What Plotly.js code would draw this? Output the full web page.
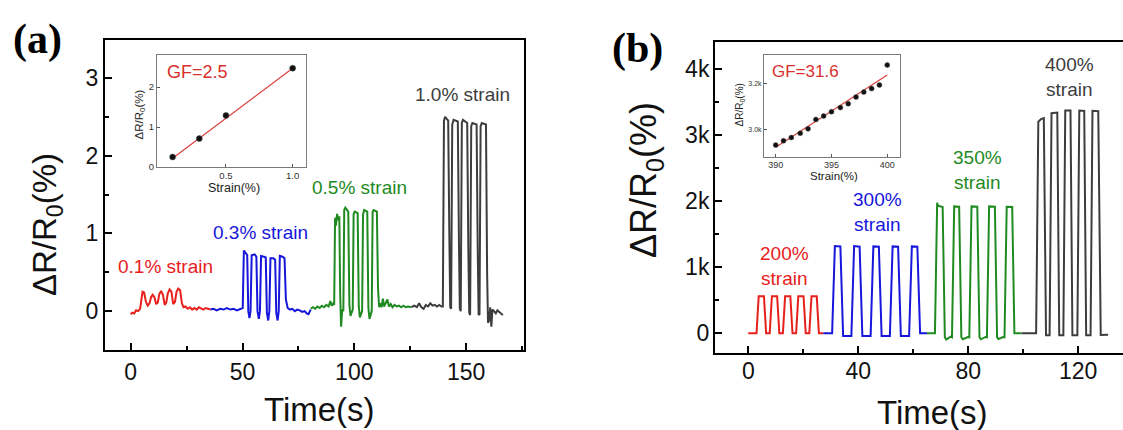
<!DOCTYPE html>
<html>
<head>
<meta charset="utf-8">
<script src="https://cdn.plot.ly/plotly-3.0.1.min.js"></script>
<style>html,body{margin:0;padding:0;background:#fff;}#chart{width:1123px;height:430px;}</style>
</head>
<body>
<div id="chart"></div>
<script>
// ---------- Panel (a) data: time (s) vs dR/R0 (%) ----------
const aRedT = [0, 0.7, 1.5, 2.4, 3.3, 4.2, 4.8, 5.3, 6.0, 6.8, 7.6, 8.4, 9.1, 9.8, 10.6, 11.4, 12.1, 12.8, 13.6, 14.4, 15.2, 15.9, 16.6, 17.4, 18.2, 19.0, 19.8, 20.5, 21.3, 22.1, 22.9, 23.6, 24.5, 25.5, 26.5, 27.5, 28.5, 29.5, 30.5, 31.5, 32.5, 33.5, 34.5, 35.7];
const aRedV = [-0.04, -0.02, -0.03, 0.01, 0.00, 0.03, 0.15, 0.25, 0.24, 0.12, 0.07, 0.10, 0.18, 0.21, 0.18, 0.09, 0.11, 0.22, 0.26, 0.21, 0.08, 0.11, 0.23, 0.28, 0.25, 0.09, 0.12, 0.25, 0.29, 0.27, 0.10, 0.05, 0.06, 0.03, 0.05, 0.02, 0.04, 0.02, 0.05, 0.03, 0.02, 0.04, 0.03, 0.02];

const aBlueT = [35.7, 37, 38.5, 40, 41.5, 43, 44.5, 46, 47.5, 49, 50.1, 50.6, 51.2, 52.1, 52.6, 53.1, 53.6, 54.1, 55.4, 56.2, 56.7, 57.3, 57.8, 58.3, 59.6, 60.4, 60.9, 61.5, 62.0, 62.5, 63.8, 64.6, 65.1, 65.7, 66.2, 66.7, 67.9, 68.8, 69.4, 70.2, 71.2, 72.3, 73.4, 74.5, 75.6, 76.7, 77.8, 78.7, 79.5, 80.5];
const aBlueV = [0.02, 0.03, 0.01, 0.03, 0.02, 0.04, 0.02, 0.03, 0.01, 0.03, 0.04, 0.78, 0.75, 0.72, 0.0, -0.09, 0.0, 0.72, 0.73, 0.70, 0.0, -0.10, 0.0, 0.71, 0.70, 0.69, -0.02, -0.12, 0.0, 0.68, 0.68, 0.66, -0.02, -0.12, 0.0, 0.71, 0.70, 0.68, 0.15, 0.04, 0.02, 0.03, 0.0, 0.02, 0.01, -0.01, 0.0, -0.03, -0.04, 0.02];

const aGreenT = [80.5, 81.5, 82.5, 83.5, 84.5, 85.5, 86.5, 87.5, 88.5, 89.3, 89.9, 90.6, 91.0, 91.4, 91.8, 92.3, 92.8, 93.3, 93.7, 94.1, 94.6, 95.1, 95.5, 96.0, 97.3, 97.8, 98.3, 98.8, 99.3, 99.7, 100.2, 101.5, 102.0, 102.5, 103.0, 103.5, 103.9, 104.4, 105.8, 106.3, 106.8, 107.3, 107.8, 108.2, 108.7, 110.1, 110.6, 111.1, 111.6, 112.2, 112.8, 113.3, 114.0, 114.8, 115.5, 116.3, 117.1, 118.0, 119.0, 120.0, 121.0, 122.0, 123.0, 124.0, 125.6];
const aGreenV = [0.03, 0.05, 0.03, 0.06, 0.04, 0.07, 0.05, 0.08, 0.06, 0.13, 0.07, 0.10, 0.08, 1.20, 1.10, 1.25, 1.17, 1.22, 0.20, -0.20, 0.02, 0.00, 1.30, 1.33, 1.28, 0.08, -0.06, -0.02, 0.02, 1.25, 1.28, 1.26, 0.06, -0.08, -0.03, 0.00, 1.24, 1.30, 1.28, 0.04, -0.10, -0.03, 0.00, 1.28, 1.30, 1.28, 0.30, 0.05, 0.10, 0.05, 0.16, 0.06, 0.10, 0.15, 0.06, 0.09, 0.05, 0.08, 0.06, 0.07, 0.05, 0.07, 0.05, 0.06, 0.05];

const aGrayT = [125.6, 126.8, 128.0, 129.0, 130.0, 131.0, 132.0, 133.0, 134.0, 135.0, 136.0, 137.0, 138.0, 139.0, 139.6, 140.1, 140.6, 142.0, 142.5, 142.9, 143.3, 143.8, 144.4, 146.3, 146.8, 147.2, 147.6, 148.1, 148.6, 150.5, 151.0, 151.4, 151.8, 152.3, 152.8, 154.7, 155.2, 155.6, 156.0, 156.5, 157.0, 158.9, 159.4, 159.8, 160.3, 160.8, 161.3, 161.8, 162.5, 163.3, 164.0, 165.0, 166.0, 166.5];
const aGrayV = [0.05, 0.07, 0.05, 0.10, 0.05, 0.03, 0.08, 0.06, 0.10, 0.07, 0.08, 0.06, 0.08, 0.06, 0.06, 2.45, 2.50, 2.45, 1.00, 0.05, 0.03, 2.40, 2.46, 2.44, 0.90, 0.03, 0.00, 2.42, 2.46, 2.42, 0.80, -0.02, -0.05, 2.38, 2.42, 2.40, 0.80, -0.05, -0.04, 2.38, 2.42, 2.40, 0.50, -0.15, -0.12, 0.05, -0.20, 0.02, 0.00, -0.03, 0.01, -0.02, -0.04, -0.05];

// ---------- Panel (b) data ----------
const bRedT = [0, 3.0, 3.8, 5.7, 6.5, 7.8, 8.6, 10.5, 11.3, 12.6, 13.4, 15.3, 16.1, 17.4, 18.2, 20.1, 20.9, 22.2, 23.0, 24.9, 25.7, 27.3];
const bRedV = [0, 0, 560, 560, 0, 0, 560, 560, 0, 0, 560, 560, 0, 0, 560, 560, 0, 0, 560, 560, 0, 0];

const bBlueT = [27.3, 30.5, 31.5, 33.5, 34.5, 37.5, 38.5, 40.5, 41.5, 44.5, 45.5, 47.5, 48.5, 51.5, 52.5, 54.5, 55.5, 58.5, 59.5, 61.5, 62.5, 65.0];
const bBlueV = [0, 0, 1320, 1315, -40, -40, 1320, 1310, -40, -40, 1315, 1310, -40, -40, 1315, 1310, -40, -40, 1315, 1310, 0, 0];

const bGreenT = [65.0, 67.9, 68.7, 69.0, 70.7, 71.5, 72.0, 73.6, 74.1, 74.9, 76.7, 77.5, 78.0, 79.9, 80.4, 81.2, 83.3, 84.1, 84.6, 86.3, 86.8, 87.6, 89.7, 90.5, 91.0, 92.7, 93.2, 94.0, 96.0, 96.8, 99.4];
const bGreenV = [0, 0, 1975, 1930, 1910, -60, -95, -50, -60, 1920, 1915, -60, -90, -55, -60, 1920, 1915, -60, -90, -55, -60, 1920, 1915, -60, -85, -55, -60, 1915, 1910, 0, 0];

const bGrayT = [99.4, 104.7, 105.5, 106.5, 107.5, 108.3, 109.6, 110.3, 112.4, 113.1, 114.6, 115.3, 117.2, 117.9, 119.7, 120.4, 122.2, 122.9, 124.5, 125.2, 127.3, 128.2, 130.9];
const bGrayV = [0, 0, 3200, 3240, 3255, -30, -30, 3330, 3340, -30, -30, 3370, 3370, -30, -30, 3370, 3365, -30, -30, 3365, 3360, -25, -20];

// ---------- Insets ----------
const insetAStrain = [0.1, 0.3, 0.5, 1.0];
const insetAResp = [0.25, 0.71, 1.29, 2.47];
const insetAFitX = [0.1, 1.0];
const insetAFitY = [0.22, 2.47];

const insetBStrain = [390, 390.7, 391.4, 392.2, 392.9, 393.6, 394.3, 395.0, 395.8, 396.5, 397.2, 397.9, 398.6, 399.3, 400.0];
const insetBResp = [2930, 2949, 2963, 2982, 3001, 3042, 3057, 3076, 3094, 3111, 3140, 3162, 3177, 3193, 3280];
const insetBFitX = [390, 400];
const insetBFitY = [2920, 3236];

// ---------- Ticks & labels ----------
const aXTicks = [0, 50, 100, 150];
const aYTicks = [0, 1, 2, 3];
const bXTicks = [0, 40, 80, 120];
const bYTicks = [0, 1000, 2000, 3000, 4000];
const bYTickText = ['0', '1k', '2k', '3k', '4k'];
const iaXTicks = [0.5, 1.0];
const iaXTickText = ['0.5', '1.0'];
const iaYTicks = [0, 1, 2];
const ibXTicks = [390, 395, 400];
const ibYTicks = [3000, 3200];
const ibYTickText = ['3.0k', '3.2k'];
const aLabels = ['0.1% strain', '0.3% strain', '0.5% strain', '1.0% strain'];
const bLabels = ['200%<br>strain', '300%<br>strain', '350%<br>strain', '400%<br>strain'];

const C_RED = '#e8201c', C_BLUE = '#1616dc', C_GREEN = '#1f8a1f', C_GRAY = '#3d3d3d';
const FONT = 'Liberation Sans, Arial, Helvetica, sans-serif';
const W = 1123, H = 430;
const px = v => v / W, py = v => 1 - v / H;

function line(x, y, c, xa, ya) {
  return {x: x, y: y, type: 'scatter', mode: 'lines', xaxis: xa, yaxis: ya,
          line: {color: c, width: 2}, hoverinfo: 'skip', showlegend: false};
}

const data = [
  line(aRedT, aRedV, C_RED, 'x', 'y'),
  line(aBlueT, aBlueV, C_BLUE, 'x', 'y'),
  line(aGreenT, aGreenV, C_GREEN, 'x', 'y'),
  line(aGrayT, aGrayV, C_GRAY, 'x', 'y'),
  line(bRedT, bRedV, C_RED, 'x2', 'y2'),
  line(bBlueT, bBlueV, C_BLUE, 'x2', 'y2'),
  line(bGreenT, bGreenV, C_GREEN, 'x2', 'y2'),
  line(bGrayT, bGrayV, C_GRAY, 'x2', 'y2'),
  {x: insetAFitX, y: insetAFitY, type: 'scatter', mode: 'lines', xaxis: 'x3', yaxis: 'y3',
   line: {color: '#d9403c', width: 1.2}, showlegend: false, hoverinfo: 'skip'},
  {x: insetAStrain, y: insetAResp, type: 'scatter', mode: 'markers', xaxis: 'x3', yaxis: 'y3',
   marker: {color: '#111', size: 6, line: {color: '#555', width: 0.5}}, showlegend: false, hoverinfo: 'skip'},
  {x: insetBFitX, y: insetBFitY, type: 'scatter', mode: 'lines', xaxis: 'x4', yaxis: 'y4',
   line: {color: '#d9403c', width: 1.2}, showlegend: false, hoverinfo: 'skip'},
  {x: insetBStrain, y: insetBResp, type: 'scatter', mode: 'markers', xaxis: 'x4', yaxis: 'y4',
   marker: {color: '#111', size: 5, line: {color: '#555', width: 0.5}}, showlegend: false, hoverinfo: 'skip'}
];

const mainAxis = {
  showgrid: false, zeroline: false, showline: true, linecolor: '#000', linewidth: 2,
  ticks: 'inside', ticklen: 7, tickwidth: 2, tickcolor: '#000',
  tickfont: {family: FONT, size: 23, color: '#111'}, fixedrange: true
};
const insetAxis = {
  showgrid: false, zeroline: false, showline: true, linecolor: '#7a7a7a', linewidth: 1, mirror: true,
  ticks: 'inside', ticklen: 3, tickwidth: 1, tickcolor: '#555',
  tickfont: {family: FONT, size: 9.5, color: '#333'}, fixedrange: true
};

function ann(x, y, text, size, color, extra) {
  return Object.assign({xref: 'paper', yref: 'paper', x: px(x), y: py(y), text: text, showarrow: false,
    xanchor: 'center', yanchor: 'middle', font: {family: FONT, size: size, color: color}}, extra || {});
}

const layout = {
  width: W, height: H, margin: {l: 0, r: 0, t: 0, b: 0},
  paper_bgcolor: '#fff', plot_bgcolor: 'rgba(0,0,0,0)', showlegend: false,
  xaxis: Object.assign({}, mainAxis, {domain: [px(105), px(524)], range: [-11.5, 175.9], anchor: 'y',
    mirror: true, tickvals: aXTicks, ticklabelstandoff: 0,
    minor: {dtick: 25, tick0: 0, ticks: 'inside', ticklen: 4, tickwidth: 2, tickcolor: '#000'}}),
  yaxis: Object.assign({}, mainAxis, {domain: [py(350), py(39.5)], range: [-0.5, 3.494], anchor: 'x',
    mirror: true, tickvals: aYTicks, ticklabelstandoff: 0,
    minor: {dtick: 0.5, tick0: 0, ticks: 'inside', ticklen: 4, tickwidth: 2, tickcolor: '#000'}}),
  xaxis2: Object.assign({}, mainAxis, {domain: [px(715), 1], range: [-12.1, 136.3], anchor: 'y2',
    mirror: true, tickvals: bXTicks, ticklabelstandoff: -4,
    minor: {dtick: 20, tick0: 0, ticks: 'inside', ticklen: 4, tickwidth: 2, tickcolor: '#000'}}),
  yaxis2: Object.assign({}, mainAxis, {domain: [py(353.3), py(42.3)], range: [-302, 4402], anchor: 'x2',
    mirror: false, tickvals: bYTicks, ticktext: bYTickText, ticklabelstandoff: -1,
    minor: {dtick: 500, tick0: 0, ticks: 'inside', ticklen: 4, tickwidth: 2, tickcolor: '#000'}}),
  xaxis3: Object.assign({}, insetAxis, {domain: [px(157), px(306)], range: [-0.017, 1.1], anchor: 'y3',
    tickvals: iaXTicks, ticktext: iaXTickText}),
  yaxis3: Object.assign({}, insetAxis, {domain: [py(167), py(55)], range: [0, 2.8], anchor: 'x3',
    tickvals: iaYTicks}),
  xaxis4: Object.assign({}, insetAxis, {domain: [px(764), px(899.5)], range: [388.95, 401.1], anchor: 'y4',
    tickvals: ibXTicks, tickfont: {family: FONT, size: 9, color: '#333'}}),
  yaxis4: Object.assign({}, insetAxis, {domain: [py(156.5), py(55)], range: [2880, 3324], anchor: 'x4',
    tickvals: ibYTicks, ticktext: ibYTickText, tickfont: {family: FONT, size: 7, color: '#333'}}),
  annotations: [
    ann(37, 40, '(a)', 42, '#000', {font: {family: 'Liberation Serif, Times New Roman, serif', size: 42, color: '#000', weight: 'bold'}}),
    ann(637, 48, '(b)', 42, '#000', {font: {family: 'Liberation Serif, Times New Roman, serif', size: 42, color: '#000', weight: 'bold'}}),
    ann(47, 225, 'ΔR/R<sub>0</sub>(%)', 33, '#111', {textangle: -90}),
    ann(646, 180, 'ΔR/R<sub>0</sub>(%)', 36, '#111', {textangle: -90}),
    ann(319.5, 409, 'Time(s)', 33, '#111'),
    ann(932, 412, 'Time(s)', 33, '#111'),
    ann(165.5, 266, aLabels[0], 19, C_RED),
    ann(260, 232, aLabels[1], 19, C_BLUE),
    ann(359, 187, aLabels[2], 19, C_GREEN),
    ann(462, 95, aLabels[3], 19, C_GRAY),
    ann(784, 266, bLabels[0], 19, C_RED),
    ann(877, 212, bLabels[1], 19, C_BLUE),
    ann(977, 170, bLabels[2], 19, C_GREEN),
    ann(1069, 77, bLabels[3], 19, C_GRAY),
    ann(197.5, 72.5, 'GF=2.5', 18, '#d9302c'),
    ann(805, 71, 'GF=31.6', 17, '#d9302c'),
    ann(234, 188, 'Strain(%)', 12.5, '#222'),
    ann(139.5, 115, 'ΔR/R<sub>0</sub>(%)', 11.5, '#222', {textangle: -90}),
    ann(834, 176, 'Strain(%)', 11.5, '#222'),
    ann(739.5, 105, 'ΔR/R<sub>0</sub>(%)', 10, '#222', {textangle: -90})
  ]
};

Plotly.newPlot('chart', data, layout, {displayModeBar: false, staticPlot: true});
</script>
</body>
</html>
